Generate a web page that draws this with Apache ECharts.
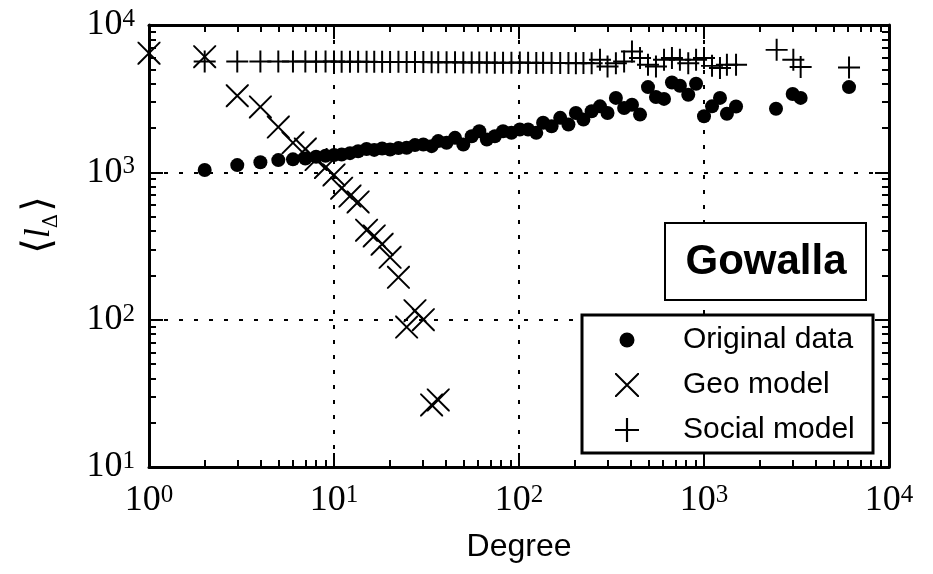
<!DOCTYPE html>
<html><head><meta charset="utf-8">
<script src="https://cdn.jsdelivr.net/npm/echarts@6/dist/echarts.min.js"></script>
<style>html,body{margin:0;padding:0;background:#fff}#c{width:933px;height:574px}</style>
</head><body><div id="c"></div>
<script>
// ---- data ----
const degreeBins = [2,3,4,5,6,7,8,9,10,11,12.2,13.5,15,16.5,18.2,20.1,22.3,24.7,27.4,30.4,33.7,36.6,40.6,45.1,50,55.5,61,67,74,82,91,101,112,124,135,150,167,185,203,223,247,274,301,334,370,408,451,498,550,608,671,741,822,906,1000,1105,1220,1330,1490];
const originalValues = [1037,1120,1170,1211,1225,1240,1275,1295,1310,1320,1350,1390,1440,1420,1450,1430,1460,1470,1530,1546,1506,1629,1585,1714,1546,1758,1901,1671,1758,1901,1854,1954,1954,1854,2168,2055,2344,2110,2530,2280,2595,2805,2530,3200,2735,2877,2465,3790,3245,3150,4075,3870,3365,3990,2400,2805,3200,2500,2800];
const socialValues = [5650,5650,5660,5650,5650,5650,5640,5650,5650,5640,5640,5630,5640,5620,5620,5610,5620,5600,5600,5600,5590,5590,5580,5580,5570,5570,5560,5560,5550,5550,5540,5560,5540,5530,5540,5520,5530,5520,5510,5520,5500,5800,5230,5500,5650,6600,5960,5370,5230,5800,5960,5800,5510,5800,5960,5280,5100,5370,5370];
const originalTailDegrees = [2450,3015,3330,6080];
const originalTailValues = [2700,3400,3200,3790];
const socialTailDegrees = [2470,3040,3330,6080];
const socialTailValues = [6780,5800,5180,5150];
const geoDegrees = [1,2,3,4,5,6,7,8,9,10,11,12.2,13.5,15,16.5,18.2,20.1,22.3,24.7,27.4,30.4,33.7,36.6];
const geoValues = [6440,6100,3310,2780,2030,1585,1440,1220,1080,960,780,690,630,405,370,325,265,194,89,115,100,26.4,28.5];
const xTickExponents = [0,1,2,3,4];
const yTickExponents = [1,2,3,4];
const seriesNames = ['Original data','Geo model','Social model'];
// ---------------------------------------

const black = '#000';
const zip = (a, b) => a.map((v, i) => [v, b[i]]);
const plusPath = 'path://M45.5,0 h9 v45.5 h45.5 v9 h-45.5 v45.5 h-9 v-45.5 h-45.5 v-9 h45.5 z';
const d = 6;
const xPath = 'path://M0,' + d + ' L0,0 L' + d + ',0 L100,' + (100 - d) + ' L100,100 L' + (100 - d) + ',100 Z ' +
  'M' + d + ',100 L0,100 L0,' + (100 - d) + ' L' + (100 - d) + ',0 L100,0 L100,' + d + ' Z';

const xLo = xTickExponents[0], xHi = xTickExponents[xTickExponents.length - 1];
const yLo = yTickExponents[0], yHi = yTickExponents[yTickExponents.length - 1];

const supLabel = v => '{b|10}{s|' + Math.round(Math.log10(v)) + '}';
const labelRich = {
  b: {fontFamily: 'Liberation Serif', fontSize: 36, color: black, lineHeight: 36},
  s: {fontFamily: 'Liberation Serif', fontSize: 25, color: black, lineHeight: 25, verticalAlign: 'top'}
};
const frameLine = {show: true, onZero: false, lineStyle: {color: black, width: 3}};
const majorTick = {show: true, inside: true, length: 14, lineStyle: {color: black, width: 2}};
const minorTick = {show: true, splitNumber: 9, length: 7, lineStyle: {color: black, width: 2}};
const gridLine = {show: true, lineStyle: {color: black, width: 2, type: [4, 11]}};

const logAxis = (lo, hi, position, withLabels) => ({
  type: 'log', logBase: 10, min: Math.pow(10, lo), max: Math.pow(10, hi), position: position,
  axisLine: frameLine, axisTick: majorTick, minorTick: minorTick, minorSplitLine: {show: false},
  axisLabel: withLabels
    ? {show: true, margin: (position === 'bottom' ? 16 : 14), formatter: supLabel, rich: labelRich, showMinLabel: true, showMaxLabel: true}
    : {show: false},
  splitLine: withLabels ? gridLine : {show: false}
});

const legendText = pad => ({fontFamily: 'Liberation Sans', fontSize: 30, color: black, lineHeight: 30, padding: [0, 0, 0, pad]});

const chart = echarts.init(document.getElementById('c'), null, {renderer: 'canvas'});
chart.setOption({
  animation: false,
  backgroundColor: '#fff',
  grid: {left: 149, top: 25, right: 44, bottom: 107, containLabel: false},
  xAxis: [logAxis(xLo, xHi, 'bottom', true), logAxis(xLo, xHi, 'top', false)],
  yAxis: [logAxis(yLo, yHi, 'left', true), logAxis(yLo, yHi, 'right', false)],
  legend: [
    {data: [{name: seriesNames[0], icon: 'circle'}], orient: 'vertical', left: 619.5, top: 325, padding: 0,
     itemWidth: 15, itemHeight: 15, textStyle: legendText(43.5), selectedMode: false, z: 20},
    {data: [{name: seriesNames[1], icon: xPath}], orient: 'vertical', left: 615, top: 370, padding: 0,
     itemWidth: 24, itemHeight: 24, textStyle: legendText(39), selectedMode: false, z: 20},
    {data: [{name: seriesNames[2], icon: plusPath}], orient: 'vertical', left: 615, top: 415, padding: 0,
     itemWidth: 24, itemHeight: 24, textStyle: legendText(39), selectedMode: false, z: 20}
  ],
  series: [
    {type: 'scatter', name: seriesNames[0], xAxisIndex: 0, yAxisIndex: 0, symbol: 'circle', symbolSize: 14,
     itemStyle: {color: black, opacity: 1}, data: zip(degreeBins, originalValues).concat(zip(originalTailDegrees, originalTailValues)), z: 3},
    {type: 'scatter', name: seriesNames[1], xAxisIndex: 0, yAxisIndex: 0, symbol: xPath, symbolSize: 23,
     itemStyle: {color: black, opacity: 1}, data: zip(geoDegrees, geoValues), z: 3},
    {type: 'scatter', name: seriesNames[2], xAxisIndex: 0, yAxisIndex: 0, symbol: plusPath, symbolSize: 22,
     itemStyle: {color: black, opacity: 1}, data: zip(degreeBins, socialValues).concat(zip(socialTailDegrees, socialTailValues)), z: 3}
  ],
  graphic: [
    {type: 'rect', shape: {x: 665, y: 223, width: 201, height: 77}, style: {fill: '#fff', stroke: black, lineWidth: 2}, z: 10},
    {type: 'text', x: 766, y: 262, z: 11, style: {text: 'Gowalla', font: 'bold 42px "Liberation Sans"', fill: black, align: 'center', verticalAlign: 'middle'}},
    {type: 'rect', shape: {x: 582, y: 315, width: 291, height: 138}, style: {fill: '#fff', stroke: black, lineWidth: 3}, z: 10},
    {type: 'text', x: 519, y: 547, z: 11, style: {text: 'Degree', font: '32px "Liberation Sans"', fill: black, align: 'center', verticalAlign: 'middle'}},
    {type: 'text', x: 40, y: 225, rotation: Math.PI / 2, z: 11, style: {
      text: '{br|⟨}{l|l}{d|Δ}{br|⟩}', align: 'center', verticalAlign: 'middle', fill: black,
      rich: {
        br: {fontFamily: 'DejaVu Serif', fontSize: 40, fill: black, lineHeight: 44},
        l: {fontFamily: 'Liberation Serif', fontStyle: 'italic', fontSize: 36, fill: black, lineHeight: 44},
        d: {fontFamily: 'DejaVu Serif', fontSize: 20, fill: black, lineHeight: 20, padding: [18, 2, 0, 0], verticalAlign: 'bottom'}
      }}}
  ]
});
</script></body></html>
